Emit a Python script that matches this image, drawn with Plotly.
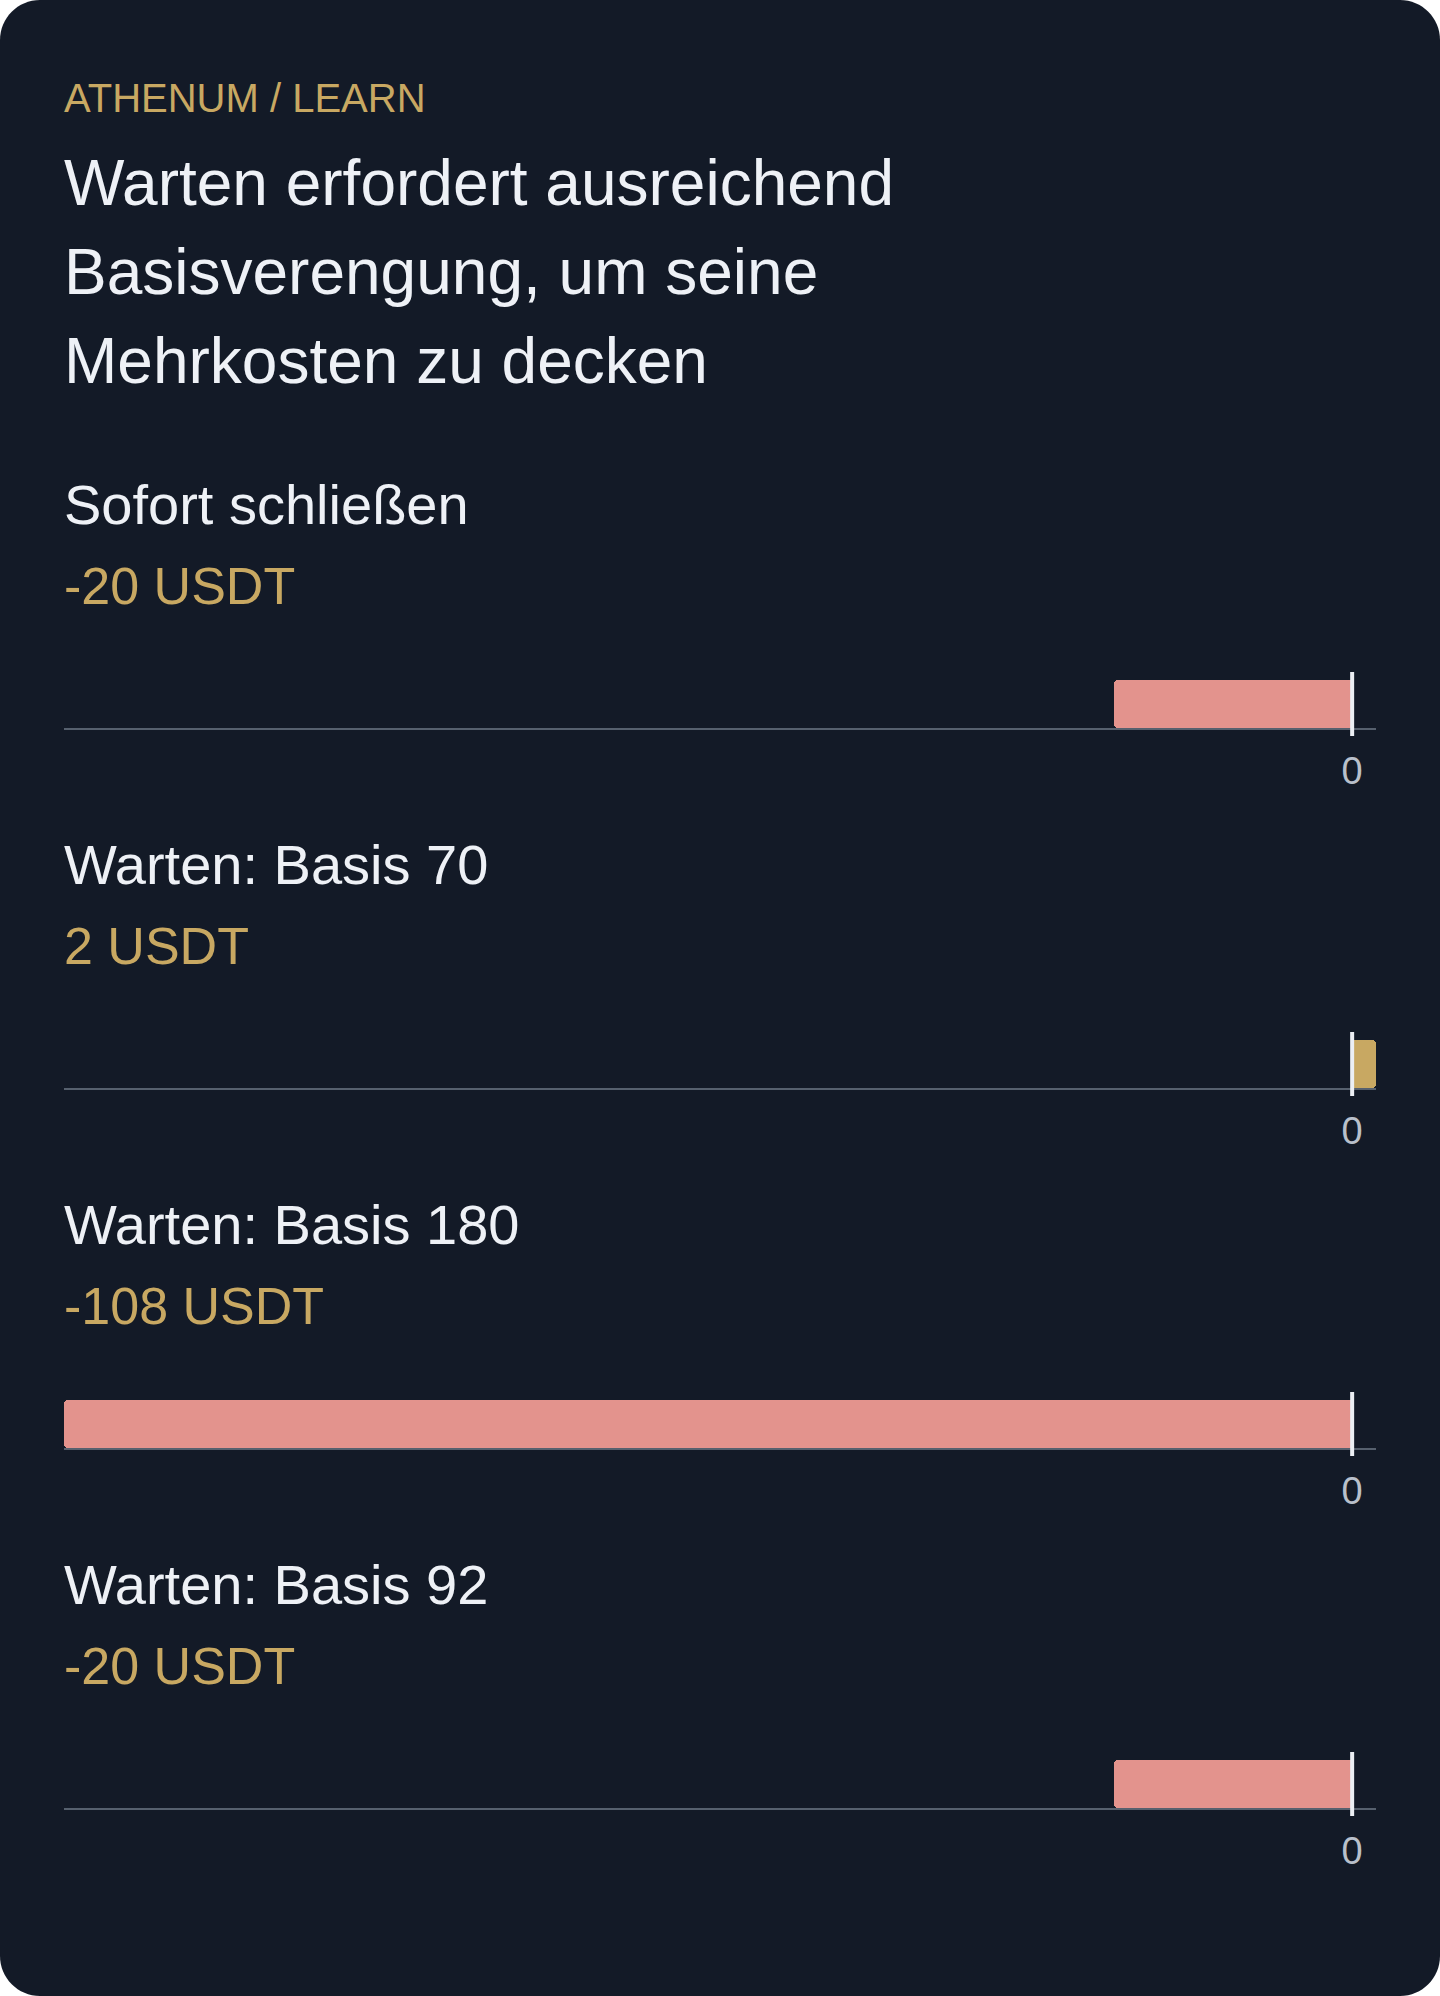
import plotly.graph_objects as go

# card text
eyebrow = "ATHENUM / LEARN"
title_lines = [
    "Warten erfordert ausreichend",
    "Basisverengung, um seine",
    "Mehrkosten zu decken",
]

# scenarios and their result in USDT
scenarios = ["Sofort schließen", "Warten: Basis 70", "Warten: Basis 180", "Warten: Basis 92"]
pnl = [-20, 2, -108, -20]
unit = "USDT"
tick_vals = [0]
tick_text = ["0"]

W, H = 1440, 1996
BG = "#131a27"
GOLD = "#c8a862"
LOSS = "#e3938d"
TEXT = "#eef1f6"
MUTED = "#b9c0cb"
AXIS = "#56606e"
ZERO = "#eceff4"
FONT = "Liberation Sans, Arial, Helvetica, sans-serif"

LEFT, RIGHT = 64, 1376   # plot area in px
STEP = 360               # distance between panels
BAR_TOP, BAR_BOT = 680, 728
TX = 61.5                # left edge of the text column


def py(px):
    # pixel from top -> paper fraction
    return 1 - px / H


x_lo = min(min(pnl), 0)
x_hi = max(max(pnl), 0)

fig = go.Figure()

for i, (name, v) in enumerate(zip(scenarios, pnl)):
    k = "" if i == 0 else str(i + 1)
    top = BAR_TOP + STEP * i
    bot = BAR_BOT + STEP * i

    fig.add_trace(go.Bar(
        x=[v], y=[name], orientation="h",
        xaxis="x" + k, yaxis="y" + k,
        width=1,
        marker=dict(color=GOLD if v >= 0 else LOSS, cornerradius=4, line_width=0),
        hoverinfo="skip", showlegend=False,
    ))

    fig.layout["xaxis" + k] = dict(
        domain=[LEFT / W, RIGHT / W], anchor="y" + k,
        range=[x_lo, x_hi],
        tickvals=tick_vals, ticktext=tick_text, ticks="",
        ticklabelstandoff=8,
        tickfont=dict(family=FONT, size=38, color=MUTED),
        showgrid=False, zeroline=False,
        showline=True, linecolor=AXIS, linewidth=2,
        fixedrange=True,
    )
    fig.layout["yaxis" + k] = dict(
        domain=[py(bot), py(top)], anchor="x" + k,
        range=[-0.5, 0.5], visible=False, fixedrange=True,
    )

    # white zero marker, a bit taller than the bar
    fig.add_shape(type="line", xref="x" + k, yref="y" + k + " domain",
                  x0=0, x1=0, y0=-8 / 48, y1=1 + 8 / 48,
                  line=dict(color=ZERO, width=4), layer="above")

    fig.add_annotation(text=name, x=TX / W, y=py(504.6 + STEP * i),
                       xref="paper", yref="paper", xanchor="left", yanchor="middle",
                       showarrow=False, font=dict(family=FONT, size=56, color=TEXT))
    fig.add_annotation(text=f"{v} {unit}", x=TX / W, y=py(586 + STEP * i),
                       xref="paper", yref="paper", xanchor="left", yanchor="middle",
                       showarrow=False, font=dict(family=FONT, size=52, color=GOLD))

# header
fig.add_annotation(text=eyebrow, x=TX / W, y=py(98), xref="paper", yref="paper",
                   xanchor="left", yanchor="middle", showarrow=False,
                   font=dict(family=FONT, size=40, color=GOLD))
for j, line in enumerate(title_lines):
    fig.add_annotation(text=line, x=TX / W, y=py(183 + 89 * j), xref="paper", yref="paper",
                       xanchor="left", yanchor="middle", showarrow=False,
                       font=dict(family=FONT, size=64, color=TEXT))

# rounded dark card behind everything
rx, ry = 40 / W, 40 / H
c = 0.448  # bezier handle for a quarter circle
card = (
    f"M {rx},0 L {1 - rx},0 C {1 - rx * c},0 1,{ry * c} 1,{ry} "
    f"L 1,{1 - ry} C 1,{1 - ry * c} {1 - rx * c},1 {1 - rx},1 "
    f"L {rx},1 C {rx * c},1 0,{1 - ry * c} 0,{1 - ry} "
    f"L 0,{ry} C 0,{ry * c} {rx * c},0 {rx},0 Z"
)
fig.add_shape(type="path", path=card, xref="paper", yref="paper",
              fillcolor=BG, line_width=0, layer="below")

fig.update_layout(
    width=W, height=H,
    margin=dict(l=0, r=0, t=0, b=0),
    paper_bgcolor="white", plot_bgcolor="rgba(0,0,0,0)",
    font=dict(family=FONT),
    bargap=0,
)

fig.write_html("out.html", config={"displayModeBar": False},
               post_script="document.body.style.margin='0';")
